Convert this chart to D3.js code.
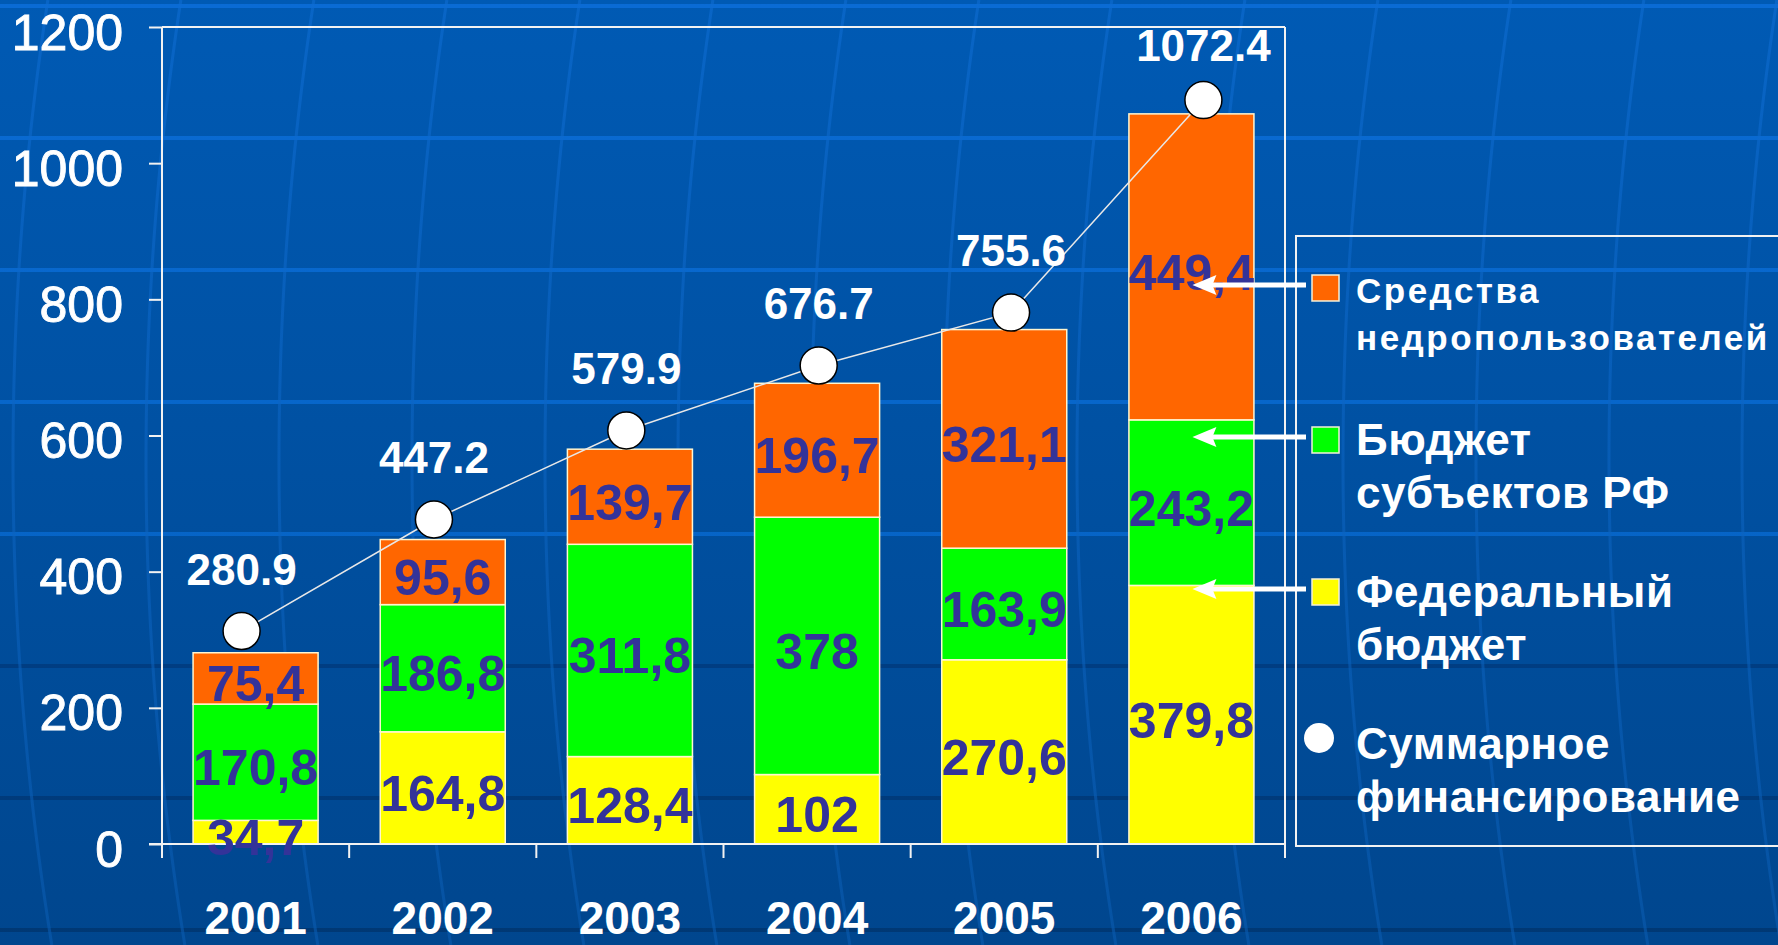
<!DOCTYPE html>
<html>
<head>
<meta charset="utf-8">
<script src="https://cdn.jsdelivr.net/npm/d3@7"></script>
<style>
  html, body { margin: 0; padding: 0; overflow: hidden; background: #0050a0; }
  svg { display: block; font-family: "Liberation Sans", Arial, sans-serif; }
</style>
</head>
<body>
<svg id="chart" width="1778" height="945"></svg>
<script>
// ---- data ----
const years = ['2001', '2002', '2003', '2004', '2005', '2006'];
const federal = [34.7, 164.8, 128.4, 102, 270.6, 379.8];      // Федеральный бюджет
const regional = [170.8, 186.8, 311.8, 378, 163.9, 243.2];    // Бюджет субъектов РФ
const subsoil = [75.4, 95.6, 139.7, 196.7, 321.1, 449.4];     // Средства недропользователей
const totals = [280.9, 447.2, 579.9, 676.7, 755.6, 1072.4];   // Суммарное финансирование
const yTicks = [0, 200, 400, 600, 800, 1000, 1200];
const seriesKeys = ['federal', 'regional', 'subsoil'];
const seriesColors = ['#FFFF00', '#00FF00', '#FF6600'];
const legendLabels = [
  ['Средства', 'недропользователей'],
  ['Бюджет', 'субъектов РФ'],
  ['Федеральный', 'бюджет'],
  ['Суммарное', 'финансирование']
];
const legendKinds = ['subsoil', 'regional', 'federal', 'total'];

// ---- setup ----
const W = 1778, H = 945;
const svg = d3.select('#chart');
const defs = svg.append('defs');

const bg = defs.append('linearGradient').attr('id', 'bg').attr('x1', 0).attr('y1', 0).attr('x2', 0).attr('y2', 1);
bg.append('stop').attr('offset', 0).attr('stop-color', '#005AB4');
bg.append('stop').attr('offset', 1).attr('stop-color', '#00468E');

const gl = defs.append('linearGradient').attr('id', 'gl').attr('gradientUnits', 'userSpaceOnUse')
  .attr('x1', 0).attr('y1', 0).attr('x2', 0).attr('y2', H);
gl.append('stop').attr('offset', 0).attr('stop-color', '#0A6BD4');
gl.append('stop').attr('offset', 0.6).attr('stop-color', '#0664C6');
gl.append('stop').attr('offset', 0.66).attr('stop-color', '#003E84');
gl.append('stop').attr('offset', 1).attr('stop-color', '#003874');

const ml = defs.append('linearGradient').attr('id', 'ml').attr('gradientUnits', 'userSpaceOnUse')
  .attr('x1', 0).attr('y1', 0).attr('x2', 0).attr('y2', H);
ml.append('stop').attr('offset', 0).attr('stop-color', '#0E6CD2');
ml.append('stop').attr('offset', 1).attr('stop-color', '#0A5BB0');

svg.append('rect').attr('width', W).attr('height', H).attr('fill', 'url(#bg)');

// decorative template lines
const deco = svg.append('g');
d3.range(6, H, 132).forEach(yy => {
  deco.append('line').attr('x1', 0).attr('x2', W).attr('y1', yy).attr('y2', yy)
    .attr('stroke', 'url(#gl)').attr('stroke-width', 4);
});
d3.range(55, W + 40, 133).forEach(x0 => {
  const pts = d3.range(0, H + 1, 15).map(yy => {
    const t = (yy - 460) / 2000;
    return [x0 - 42 + 1300 * (1 - Math.sqrt(1 - t * t)), yy];
  });
  deco.append('path').attr('d', d3.line()(pts)).attr('fill', 'none')
    .attr('stroke', 'url(#ml)').attr('stroke-width', 3).attr('opacity', 0.6);
});

// ---- scales ----
const plot = { left: 162, right: 1285, top: 27, bottom: 844 };
const x = d3.scaleBand().domain(years).range([plot.left, plot.right])
  .paddingInner(0.332).paddingOuter(0.166);
const y = d3.scaleLinear().domain([0, 1200]).range([plot.bottom, plot.top]);
// the total line is drawn on its own (slightly shifted) scales, as in the original
const bw = x.bandwidth();
const lx = d3.scalePoint().domain(years)
  .range([x(years[0]) + bw / 2 - 14, x(years[years.length - 1]) + bw / 2 + 12]);
const y2 = d3.scaleLinear().domain([0, 1200]).range([plot.bottom - 24.5, plot.top - 12.5]);

// ---- stacked bars ----
const table = years.map((yr, i) => ({ year: yr, federal: federal[i], regional: regional[i], subsoil: subsoil[i] }));
const stacked = d3.stack().keys(seriesKeys)(table);

const gBars = svg.append('g');
stacked.forEach((layer, li) => {
  gBars.selectAll(null).data(layer).enter().append('rect')
    .attr('x', d => x(d.data.year))
    .attr('width', bw)
    .attr('y', d => y(d[1]))
    .attr('height', d => y(d[0]) - y(d[1]))
    .attr('fill', seriesColors[li])
    .attr('stroke', '#FFF6D0')
    .attr('stroke-width', 1.5);
});

// ---- axes / frame ----
const axisColor = '#F2F2F2';
const gAxis = svg.append('g').attr('transform', `translate(${plot.left},0)`);
gAxis.call(d3.axisLeft(y).tickValues(yTicks).tickSize(13).tickPadding(26).tickFormat(d3.format('d')));
gAxis.select('.domain').remove();
gAxis.selectAll('.tick line').attr('stroke', axisColor).attr('stroke-width', 2);
gAxis.selectAll('.tick text').attr('fill', '#FFFFFF').attr('font-size', 50)
  .attr('stroke', '#FFFFFF').attr('stroke-width', 0.9)
  .attr('font-family', '"Liberation Sans", Arial, sans-serif').attr('dy', '0.44em');

const frame = svg.append('g').attr('stroke', axisColor).attr('stroke-width', 2).attr('fill', 'none');
frame.append('line').attr('x1', plot.left).attr('x2', plot.left).attr('y1', y(1200)).attr('y2', y(0) + 14);
frame.append('line').attr('x1', plot.right).attr('x2', plot.right).attr('y1', y(1200)).attr('y2', y(0) + 14);
frame.append('line').attr('x1', plot.left).attr('x2', plot.right).attr('y1', y(1200)).attr('y2', y(1200));
frame.append('line').attr('x1', plot.left - 13).attr('x2', plot.right).attr('y1', y(0)).attr('y2', y(0));
years.slice(1).forEach(yr => {
  const bx = x(yr) - x.step() * x.paddingInner() / 2;
  frame.append('line').attr('x1', bx).attr('x2', bx).attr('y1', y(0)).attr('y2', y(0) + 14);
});

// x labels
svg.append('g').selectAll('text').data(years).enter().append('text')
  .attr('x', d => x(d) + bw / 2)
  .attr('y', 934)
  .attr('text-anchor', 'middle')
  .attr('font-size', 46).attr('font-weight', 'bold').attr('fill', '#FFFFFF')
  .text(d => d);

// ---- segment value labels ----
const fmtComma = v => String(v).replace('.', ',');
const gVals = svg.append('g');
stacked.forEach(layer => {
  gVals.selectAll(null).data(layer).enter().append('text')
    .attr('x', d => x(d.data.year) + bw / 2)
    .attr('y', d => (y(d[0]) + y(d[1])) / 2 + 50 * 0.36 + 5)
    .attr('text-anchor', 'middle')
    .attr('font-size', 50).attr('font-weight', 'bold').attr('fill', '#333399')
    .text(d => fmtComma(d.data[layer.key]));
});

// ---- total line + markers ----
const lineGen = d3.line().x((d, i) => lx(years[i])).y(d => y2(d));
svg.append('path').attr('d', lineGen(totals)).attr('fill', 'none')
  .attr('stroke', '#E8E8E8').attr('stroke-width', 1.5);
svg.append('g').selectAll('circle').data(totals).enter().append('circle')
  .attr('cx', (d, i) => lx(years[i])).attr('cy', d => y2(d)).attr('r', 18.5)
  .attr('fill', '#FFFFFF').attr('stroke', '#000000').attr('stroke-width', 1.5);
svg.append('g').selectAll('text').data(totals).enter().append('text')
  .attr('x', (d, i) => lx(years[i]))
  .attr('y', d => Math.max(y2(d) - 62, plot.top + 18) + 44 * 0.36)
  .attr('text-anchor', 'middle')
  .attr('font-size', 44).attr('font-weight', 'bold').attr('fill', '#FFFFFF')
  .text(d => String(d));

// ---- legend ----
const leg = { left: 1296, top: 236, bottom: 846 };
svg.append('rect').attr('x', leg.left).attr('y', leg.top)
  .attr('width', W + 20 - leg.left).attr('height', leg.bottom - leg.top)
  .attr('fill', 'none').attr('stroke', '#F2F2F2').attr('stroke-width', 2);

const colorOf = { federal: seriesColors[0], regional: seriesColors[1], subsoil: seriesColors[2] };
const arrowTip = x(years[years.length - 1]) + bw / 2 + 1;
const gLeg = svg.append('g');
legendKinds.forEach((kind, i) => {
  const base = 303 + 152 * i;
  const g = gLeg.append('g');
  if (kind === 'total') {
    g.append('circle').attr('cx', 1319).attr('cy', base - 21).attr('r', 15).attr('fill', '#FFFFFF');
  } else {
    g.append('rect').attr('x', 1312).attr('y', base - 28).attr('width', 27).attr('height', 26)
      .attr('fill', colorOf[kind]).attr('stroke', '#F4F0D8').attr('stroke-width', 1.5);
    const ay = base - 18;
    g.append('line').attr('x1', 1306).attr('x2', arrowTip + 18).attr('y1', ay).attr('y2', ay)
      .attr('stroke', '#FFFFFF').attr('stroke-width', 5);
    g.append('path')
      .attr('d', `M${arrowTip},${ay} L${arrowTip + 24},${ay - 10} L${arrowTip + 20},${ay} L${arrowTip + 24},${ay + 10} Z`)
      .attr('fill', '#FFFFFF');
  }
  const small = i === 0;
  const fs = small ? 35 : 44;
  legendLabels[i].forEach((line, li) => {
    g.append('text')
      .attr('x', 1356)
      .attr('y', base + li * (small ? 47 : 53))
      .attr('font-size', fs).attr('font-weight', 'bold').attr('fill', '#FFFFFF')
      .attr('letter-spacing', small ? 2.5 : 0.5)
      .text(line);
  });
});
</script>
</body>
</html>
